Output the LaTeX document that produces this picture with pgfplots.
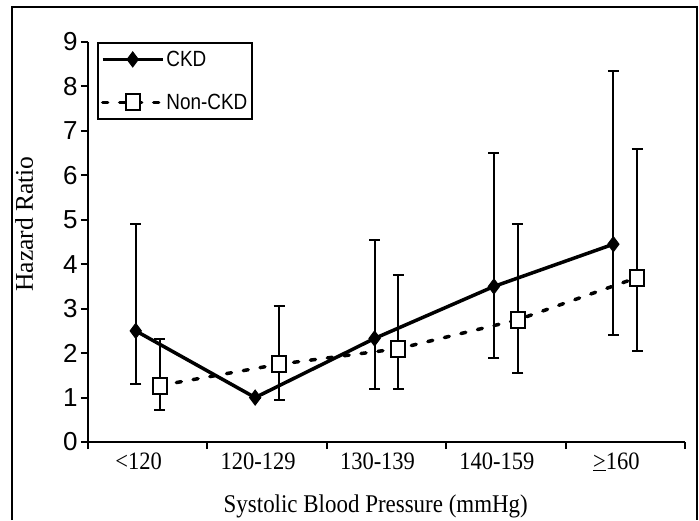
\documentclass[border=0pt]{standalone}
\usepackage{pgfplots}
\pgfplotsset{compat=1.18}
\usepackage{fontspec}
\setmainfont{Liberation Serif}
\setsansfont{Liberation Sans}
\newfontfamily\condserif[FakeStretch=0.9]{Liberation Serif}
\newfontfamily\condsans[FakeStretch=0.86]{Liberation Sans}

\begin{document}
\begin{tikzpicture}
  \useasboundingbox (0pt,0pt) rectangle (699pt,520pt);
  % outer frame (bottom edge cut off in the original)
  \draw[line width=2pt] (12pt,0pt) -- (12pt,513pt) -- (697pt,513pt) -- (697pt,0pt);
  \begin{axis}[
      at={(88pt,78pt)}, anchor=south west,
      scale only axis, width=597pt, height=400pt,
      xmin=-0.5, xmax=4.5, ymin=0, ymax=9,
      axis lines*=left,
      axis line style={line width=2.5pt},
      clip=false,
      xtick={-0.5,0.5,1.5,2.5,3.5,4.5},
      xticklabels={{<120},{120-129},{130-139},{140-159},{\underline{>}160}},
      x tick label as interval,
      ytick={0,1,...,9},
      tick align=outside,
      major tick length=7pt,
      tick style={line width=2pt, black},
      /pgf/number format/assume math mode=true,
      x tick label style={font=\fontsize{25}{25}\selectfont\condserif, xshift=-9pt},
      y tick label style={font=\fontsize{26}{26}\selectfont\sffamily},
      xlabel={Systolic Blood Pressure (mmHg)},
      ylabel={Hazard Ratio},
      xlabel style={font=\fontsize{25.5}{25.5}\selectfont\condserif,
        at={(axis description cs:0.482,-0.15)}, anchor=center, yshift=-4pt},
      ylabel style={font=\fontsize{25.5}{25.5}\selectfont,
        at={(axis description cs:-0.107,0.545)}, anchor=center},
      legend style={at={(axis description cs:0.015,1)}, anchor=north west,
        draw=black, line width=2pt, font=\fontsize{22}{22}\selectfont\condsans,
        row sep=22pt, inner xsep=3pt, inner ysep=6pt},
      legend cell align=left,
      legend image code/.code={
        \draw[mark repeat=2,mark phase=2,#1] plot coordinates {(0pt,0pt) (30pt,0pt) (60pt,0pt)};
      },
    ]
    \addplot[black, line width=3.5pt, mark=diamond*, mark size=7.5pt,
      mark options={solid, line width=1pt},
      error bars/.cd, y dir=both, y explicit,
      error bar style={line width=2pt, solid},
      error mark options={rotate=90, mark size=5.5pt, line width=2pt}]
      table[x=x, y=y, y error plus=ep, y error minus=em] {
        x    y     ep    em
        -0.1 2.5   2.4   1.2
        0.9  1.0   0     0
        1.9  2.33  2.22  1.13
        2.9  3.5   3.0   1.6
        3.9  4.45  3.9   2.05
      };
    \addlegendentry{CKD}
    \addplot[black, line width=3.5pt, dash pattern=on 5pt off 12pt, line cap=round,
      mark=square*, mark size=8pt,
      mark options={solid, fill=white, line width=2pt, xscale=0.88},
      error bars/.cd, y dir=both, y explicit,
      error bar style={line width=2pt, solid, line cap=butt},
      error mark options={rotate=90, mark size=5.5pt, line width=2pt}]
      table[x=x, y=y, y error plus=ep, y error minus=em] {
        x    y     ep    em
        0.1  1.27  1.05  0.56
        1.1  1.75  1.3   0.8
        2.1  2.1   1.65  0.9
        3.1  2.75  2.15  1.2
        4.1  3.7   2.9   1.65
      };
    \addlegendentry{Non-CKD}
  \end{axis}
\end{tikzpicture}
\end{document}
